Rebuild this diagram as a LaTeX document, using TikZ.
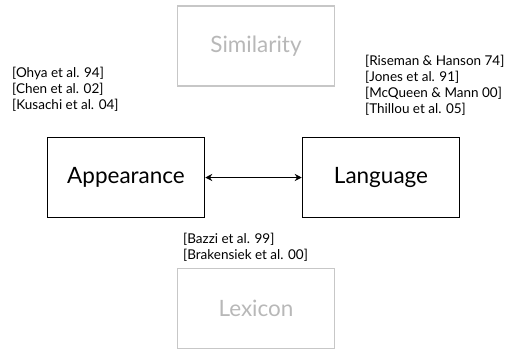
\documentclass[tikz,border=0pt]{standalone}
\usepackage{fontspec}
\usetikzlibrary{arrows.meta}
\setmainfont{Lato}
\colorlet{box edge}{black!22}
\colorlet{box text}{black!28}
\tikzset{topic/.style={draw, line width=1.5pt, minimum width=157pt, minimum height=80pt,
        inner sep=0pt, font=\fontsize{22.5}{26}\selectfont},
    faded/.style={topic, draw=box edge, text=box text},
    refs/.style={align=left, inner sep=0pt, font=\fontsize{13.5}{16}\selectfont}}

\begin{document}
\begin{tikzpicture}[x=1pt, y=-1pt]
     \useasboundingbox (0,0) rectangle (519,349);
     \node[faded] (similarity) at (256,46) {Similarity};
     \node[topic] (appearance) at (126,177.5) {Appearance};
     \node[topic] (language) at (381,177.5) {Language};
     \node[faded] (lexicon) at (256,308.5) {Lexicon};
     \draw[line width=1.5pt, >={Stealth[length=7pt, width=7pt]}, <->] (appearance) -- (language);
     \node[refs, anchor=north west] (appearance refs) at (12,67)
          {{[Ohya et al. 94]}\\{[Chen et al. 02]}\\{[Kusachi et al. 04]}};
     \node[refs, anchor=north west] (language refs) at (365,55)
          {{[Riseman \& Hanson 74]}\\{[Jones et al. 91]}\\{[McQueen \& Mann 00]}\\{[Thillou et al. 05]}};
     \node[refs, anchor=north west] (lexicon refs) at (183,233)
          {{[Bazzi et al. 99]}\\{[Brakensiek et al. 00]}};
\end{tikzpicture}
\end{document}
